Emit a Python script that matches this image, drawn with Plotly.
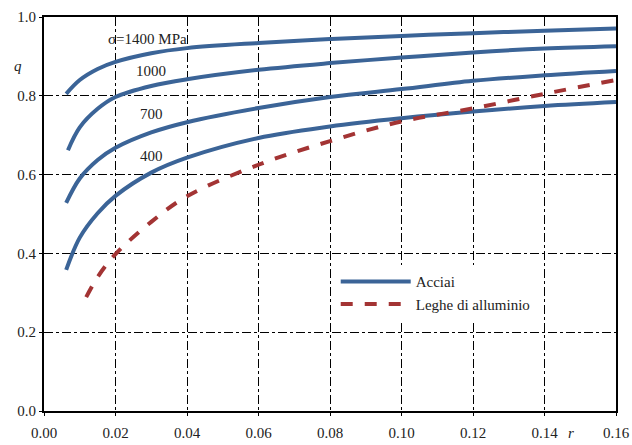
import plotly.graph_objects as go

# --- data ---
r_1400 = [0.0062, 0.010, 0.015, 0.020, 0.030, 0.040, 0.060, 0.080, 0.100, 0.120, 0.140, 0.160]
q_1400 = [0.805, 0.840, 0.868, 0.886, 0.908, 0.921, 0.934, 0.944, 0.952, 0.959, 0.965, 0.971]

r_1000 = [0.0067, 0.010, 0.015, 0.020, 0.030, 0.040, 0.060, 0.080, 0.100, 0.120, 0.140, 0.160]
q_1000 = [0.662, 0.720, 0.767, 0.797, 0.825, 0.842, 0.866, 0.883, 0.897, 0.910, 0.920, 0.926]

r_700 = [0.0062, 0.010, 0.015, 0.020, 0.030, 0.040, 0.060, 0.080, 0.100, 0.120, 0.140, 0.160]
q_700 = [0.528, 0.590, 0.637, 0.668, 0.707, 0.733, 0.769, 0.797, 0.817, 0.838, 0.852, 0.863]

r_400 = [0.0062, 0.010, 0.015, 0.020, 0.030, 0.040, 0.060, 0.080, 0.100, 0.120, 0.140, 0.160]
q_400 = [0.358, 0.440, 0.502, 0.546, 0.605, 0.643, 0.693, 0.722, 0.743, 0.760, 0.774, 0.784]

r_al = [0.0118, 0.015, 0.020, 0.030, 0.040, 0.060, 0.080, 0.100, 0.120, 0.140, 0.160]
q_al = [0.289, 0.340, 0.398, 0.480, 0.545, 0.625, 0.685, 0.735, 0.768, 0.805, 0.840]

steel_labels = ["σ=1400 MPa", "1000", "700", "400"]
label_r = [0.0290, 0.0300, 0.0300, 0.0300]
label_q = [0.944, 0.862, 0.753, 0.646]

x_ticks = [0.00, 0.02, 0.04, 0.06, 0.08, 0.10, 0.12, 0.14, 0.16]
x_tick_text = ["0.00", "0.02", "0.04", "0.06", "0.08", "0.10", "0.12", "0.14", "0.16"]
y_ticks = [0.0, 0.2, 0.4, 0.6, 0.8, 1.0]
y_tick_text = ["0.0", "0.2", "0.4", "0.6", "0.8", "1.0"]

BLUE = "#3b6497"
RED = "#a33434"
FONT = "Liberation Serif"

fig = go.Figure()
steel = [(r_1400, q_1400), (r_1000, q_1000), (r_700, q_700), (r_400, q_400)]
for i, (rx, qy) in enumerate(steel):
    fig.add_trace(go.Scatter(
        x=rx, y=qy, mode="lines", line=dict(color=BLUE, width=4, shape="spline"),
        name="Acciai", showlegend=(i == 0), legendgroup="acc"))
fig.add_trace(go.Scatter(
    x=r_al, y=q_al, mode="lines", line=dict(color=RED, width=4, dash="dash", shape="spline"),
    name="Leghe di alluminio"))

for t, xr, yq in zip(steel_labels, label_r, label_q):
    fig.add_annotation(x=xr, y=yq, text=t, showarrow=False,
                       font=dict(family=FONT, size=15, color="#222"))

fig.add_annotation(xref="paper", yref="paper", x=-0.035, y=0.9, text="<i>q</i>",
                   showarrow=False, font=dict(family=FONT, size=15, color="#222"), xanchor="right")
fig.add_annotation(xref="paper", yref="paper", x=0.93, y=-0.03, text="<i>r</i>",
                   showarrow=False, font=dict(family=FONT, size=15, color="#222"), yanchor="top")

fig.update_xaxes(range=[0, 0.16], tickvals=x_ticks, ticktext=x_tick_text,
                 showgrid=True, gridcolor="black", gridwidth=1, griddash="dashdot",
                 showline=True, linecolor="black", linewidth=2, mirror=True,
                 ticks="outside", ticklen=3, tickcolor="black", ticklabelstandoff=4,
                 zeroline=False, automargin=False,
                 tickfont=dict(family=FONT, size=15, color="#222"))
fig.update_yaxes(range=[0, 1.0], tickvals=y_ticks, ticktext=y_tick_text,
                 showgrid=True, gridcolor="black", gridwidth=1, griddash="dashdot",
                 showline=True, linecolor="black", linewidth=2, mirror=True,
                 ticks="outside", ticklen=3, tickcolor="black",
                 zeroline=False, automargin=False,
                 tickfont=dict(family=FONT, size=15, color="#222"))

fig.update_layout(
    width=632, height=445,
    margin=dict(l=44, r=16, t=17, b=34, autoexpand=False),
    paper_bgcolor="white", plot_bgcolor="white",
    font=dict(family=FONT, size=15, color="#222"),
    legend=dict(x=0.51, y=0.37, xanchor="left", yanchor="top",
                bgcolor="white", borderwidth=0, itemwidth=70,
                tracegroupgap=0, font=dict(family=FONT, size=15, color="#222")),
)

fig.write_html("out.html")
